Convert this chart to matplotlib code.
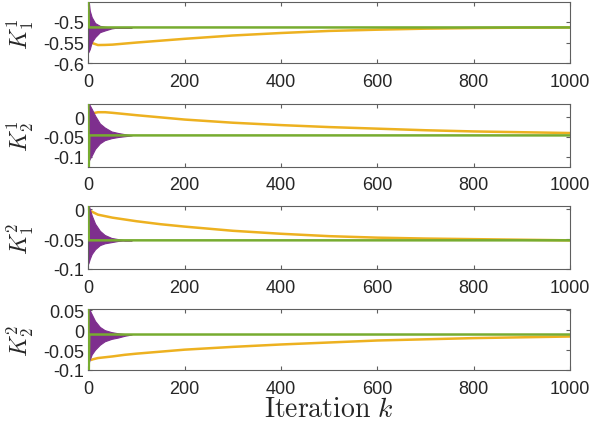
import numpy as np
import matplotlib
matplotlib.use("Agg")
import matplotlib.pyplot as plt

plt.rcParams['font.family'] = ['Liberation Sans', 'DejaVu Sans']
plt.rcParams['mathtext.fontset'] = 'cm'
plt.rcParams['axes.unicode_minus'] = False

# ---------------- data ----------------
ylabels = [r'$K_1^1$', r'$K_2^1$', r'$K_1^2$', r'$K_2^2$']

xticks = [0, 200, 400, 600, 800, 1000]
xticklabels = ['0', '200', '400', '600', '800', '1000']

yticks = [[-0.6, -0.55, -0.5],
          [-0.1, -0.05, 0.0],
          [-0.1, -0.05, 0.0],
          [-0.1, -0.05, 0.0, 0.05]]
yticklabels = [['-0.6', '-0.55', '-0.5'],
               ['-0.1', '-0.05', '0'],
               ['-0.1', '-0.05', '0'],
               ['-0.1', '-0.05', '0', '0.05']]
ylims = [(-0.6, -0.453), (-0.125, 0.034), (-0.1, 0.005), (-0.1, 0.053)]

# purple (oscillating) series: upper / lower envelope of the dense oscillation
k_env = [0, 3, 7, 14, 24, 34, 48, 62, 76, 90]
env_upper = [
    [-0.44, -0.473, -0.4886, -0.503, -0.5097, -0.512, -0.5136, -0.5136, -0.5136, -0.5136],
    [0.04, 0.030, 0.021, 0.004, -0.016, -0.026, -0.036, -0.040, -0.043, -0.046],
    [0.01, 0.0005, -0.010, -0.024, -0.036, -0.043, -0.048, -0.050, -0.052, -0.052],
    [0.06, 0.050, 0.040, 0.023, 0.008, 0.000, -0.005, -0.008, -0.010, -0.011],
]
env_lower = [
    [-0.5735, -0.566, -0.549, -0.537, -0.525, -0.521, -0.516, -0.5136, -0.5136, -0.5136],
    [-0.113, -0.105, -0.097, -0.080, -0.066, -0.058, -0.053, -0.050, -0.048, -0.046],
    [-0.091, -0.083, -0.075, -0.067, -0.060, -0.057, -0.055, -0.053, -0.052, -0.052],
    [-0.085, -0.074, -0.061, -0.049, -0.0366, -0.028, -0.022, -0.0185, -0.014, -0.011],
]

# orange series
k_orange = [5, 10, 20, 35, 50, 75, 100, 150, 200, 250, 300, 400, 500, 600, 700, 800, 900, 1000]
orange = [
    [-0.548, -0.552, -0.556, -0.5557, -0.555, -0.5525, -0.550, -0.5455, -0.541, -0.537, -0.533,
     -0.527, -0.522, -0.519, -0.5165, -0.515, -0.514, -0.5136],
    [0.006, 0.010, 0.0125, 0.0125, 0.011, 0.008, 0.005, -0.0005, -0.006, -0.010, -0.014,
     -0.020, -0.025, -0.029, -0.033, -0.036, -0.038, -0.040],
    [-0.003, -0.005, -0.009, -0.0115, -0.014, -0.017, -0.020, -0.025, -0.029, -0.0325, -0.036,
     -0.041, -0.045, -0.0475, -0.049, -0.050, -0.051, -0.052],
    [-0.075, -0.073, -0.070, -0.068, -0.066, -0.062, -0.059, -0.054, -0.049, -0.0455, -0.042,
     -0.036, -0.031, -0.026, -0.023, -0.020, -0.018, -0.016],
]

# green series
k_green = [0, 1, 2, 1000]
green = [
    [-0.44, -0.5136, -0.5136, -0.5136],
    [0.04, -0.13, -0.046, -0.046],
    [0.01, -0.052, -0.052, -0.052],
    [0.06, -0.105, -0.011, -0.011],
]

# ---------------- styling ----------------
PURPLE = '#7E2F8E'
ORANGE = '#EDB120'
GREEN = '#77AC30'
SPINE = '#5f5f5f'
TXT = '#262626'

W, H = 603, 431
left_px, right_px = 88.3, 570
panels_px = [(3.3, 64.3), (104.7, 167.7), (207.3, 270.0), (310.0, 371.0)]

fig = plt.figure(figsize=(W / 100, H / 100), dpi=100)

axes = []
for i, (top, bot) in enumerate(panels_px):
    ax = fig.add_axes([left_px / W, 1 - bot / H, (right_px - left_px) / W, (bot - top) / H])
    axes.append(ax)
    ax.fill_between(k_env, env_lower[i], env_upper[i], color=PURPLE, linewidth=0.8,
                    edgecolor=PURPLE, zorder=2)
    ax.plot(k_orange, orange[i], color=ORANGE, linewidth=1.8, zorder=1, solid_capstyle='butt')
    ax.plot(k_green, green[i], color=GREEN, linewidth=1.8, zorder=3)
    ax.set_xlim(0, 1000)
    ax.set_ylim(*ylims[i])
    ax.set_xticks(xticks)
    ax.set_xticklabels(xticklabels)
    ax.set_yticks(yticks[i])
    ax.set_yticklabels(yticklabels[i])
    ax.tick_params(direction='in', length=3, width=0.8, top=True, right=True,
                   colors=SPINE, labelcolor=TXT, labelsize=13)
    ax.tick_params(axis='x', pad=7)
    ax.tick_params(axis='y', pad=3)
    for s in ax.spines.values():
        s.set_color(SPINE)
        s.set_linewidth(0.8)
    ax.set_ylabel(ylabels[i], fontsize=17, color=TXT)
    ax.yaxis.set_label_coords(-0.108, 0.5)

axes[-1].set_xlabel(r'$\mathrm{Iteration}\ k$', fontsize=20, color=TXT)
axes[-1].xaxis.set_label_coords(0.5, -0.42)

fig.savefig('out.png', dpi=100)
